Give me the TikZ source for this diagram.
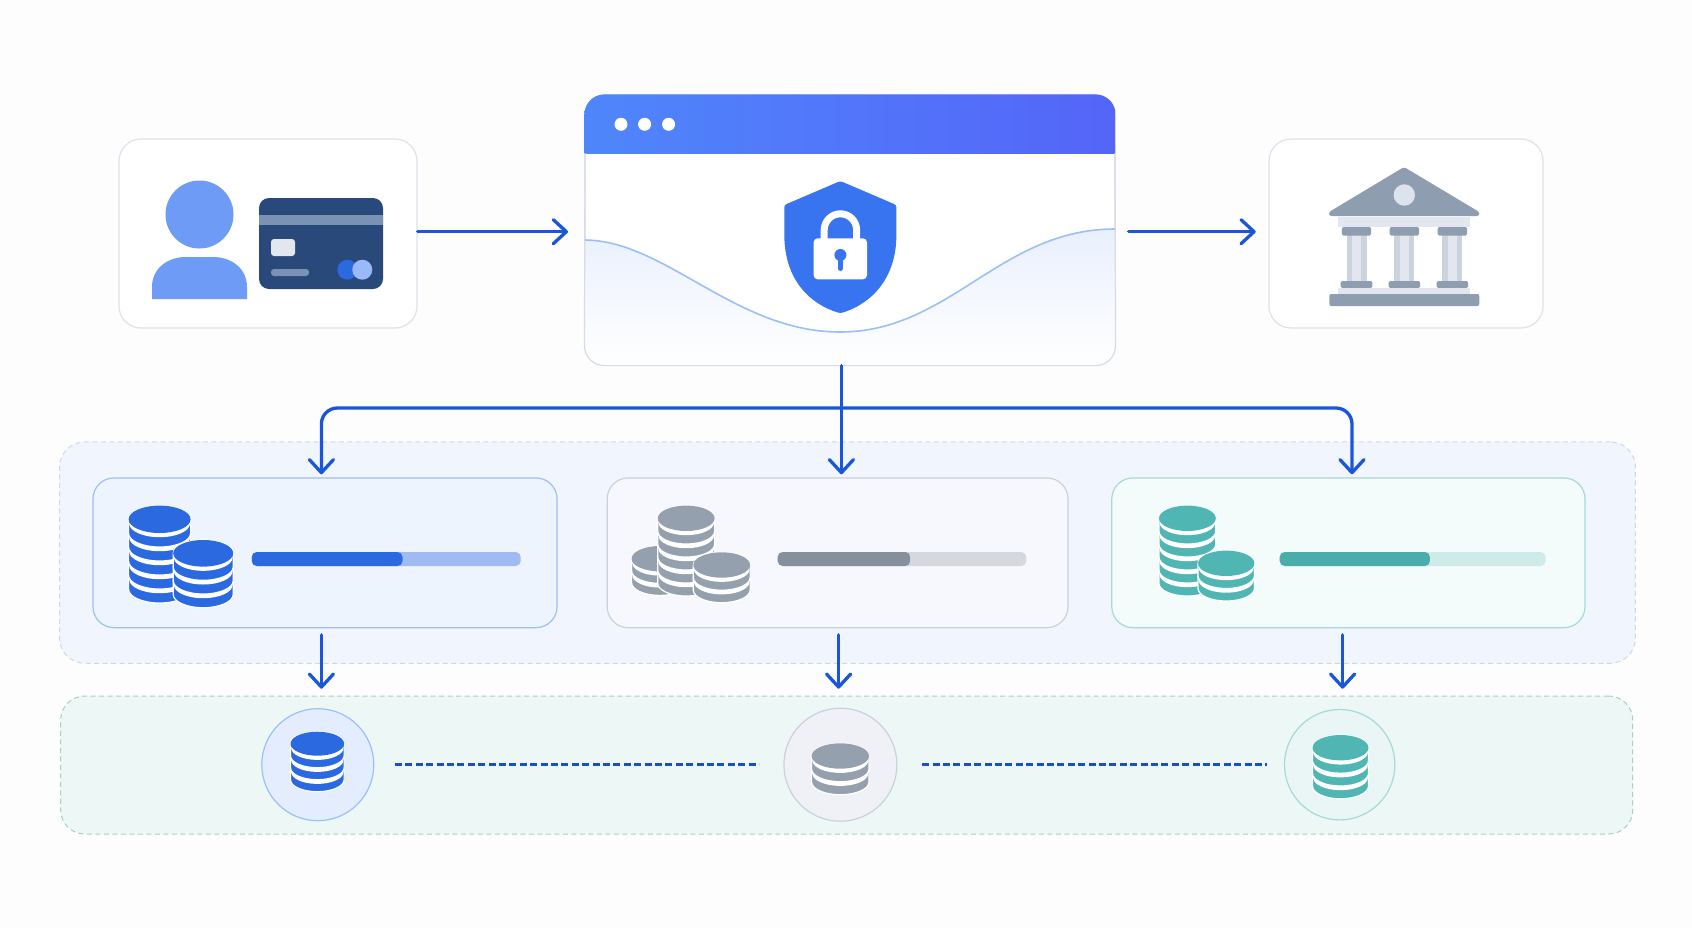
\documentclass[tikz,border=0pt]{standalone}
\usetikzlibrary{arrows.meta}

\definecolor{pagebg}{HTML}{FDFDFE}
\definecolor{cardline}{HTML}{DDE3EB}
\definecolor{gateline}{HTML}{D6DCE6}
\definecolor{flowblue}{HTML}{1A56DB}
\definecolor{dotblue}{HTML}{1A4FC0}
\definecolor{personblue}{HTML}{6E9BF5}
\definecolor{carddark}{HTML}{28497A}
\definecolor{cardstrip}{HTML}{7A93B5}
\definecolor{barleft}{HTML}{4F86FB}
\definecolor{barright}{HTML}{5465F8}
\definecolor{shieldblue}{HTML}{3873F0}
\definecolor{wavefill}{HTML}{E9F0FD}
\definecolor{waveline}{HTML}{9CBFF7}
\definecolor{bankdark}{HTML}{8F9DB0}
\definecolor{bankmid}{HTML}{CBD3DE}
\definecolor{banklight}{HTML}{E2E7EF}
\definecolor{coinblue}{HTML}{2A69E0}
\definecolor{coingray}{HTML}{95A0AE}
\definecolor{cointeal}{HTML}{4FB6B4}
\definecolor{rowfill}{HTML}{F1F5FE}
\definecolor{rowline}{HTML}{CFD9E6}
\definecolor{storefill}{HTML}{EDF7F6}
\definecolor{storeline}{HTML}{A8CEC8}
\definecolor{poolAfill}{HTML}{EEF4FE}
\definecolor{poolBfill}{HTML}{F6F8FD}
\definecolor{poolBline}{HTML}{C9D1DE}
\definecolor{poolCfill}{HTML}{F3FBFB}
\definecolor{poolCline}{HTML}{A5DAD9}
\definecolor{storeAfill}{HTML}{E3EDFD}
\definecolor{storeBfill}{HTML}{EFF1F7}
\definecolor{storeCfill}{HTML}{E9F6F5}

\tikzset{
  cardbox/.style={draw=cardline,line width=1.2pt,fill=white,rounded corners=22pt,inner sep=0pt},
  panelbox/.style={dashed,dash pattern=on 5pt off 3.5pt,line width=1pt,rounded corners=25pt,inner sep=0pt},
  rowbox/.style={line width=1.2pt,rounded corners=21pt,minimum height=149.7pt,inner sep=0pt},
  roundbase/.style={circle,line width=1.2pt,minimum size=112pt,inner sep=0pt},
  flowline/.style={line width=3.3pt,color=flowblue,line cap=round,>={Straight Barb[length=13pt,width=24pt,round]}},
  linkline/.style={line width=2.6pt,color=dotblue,dash pattern=on 7pt off 3.4pt},
}

% x, top y, rx, ry, pitch, coins, colour
\newcommand{\coinstack}[7]{
  \foreach \i in {#6,...,1} {
    \pgfmathsetmacro{\ytop}{#2+(\i-1)*#5}
    \pgfmathsetmacro{\ylow}{\ytop+#5}
    \pgfmathsetmacro{\ygap}{\ytop+4.2}
    \path[fill=#7,draw=white,line width=1.2pt] (#1-#3,\ytop) -- (#1-#3,\ylow)
      arc[start angle=180,end angle=0,x radius=#3,y radius=#4] -- (#1+#3,\ytop)
      arc[start angle=0,end angle=-180,x radius=#3,y radius=#4] -- cycle;
    \fill[white] (#1,\ygap) ellipse[x radius=#3-0.6,y radius=#4];
    \fill[#7] (#1,\ytop) ellipse[x radius=#3,y radius=#4];
  }
}
% left, split, right, dark, light
\newcommand{\meterbar}[5]{
  \fill[#5,rounded corners=5pt] (#1,551) rectangle (#3,565);
  \fill[#4,rounded corners=5pt] (#1,551) rectangle (#2,565);
}

\begin{document}
\begin{tikzpicture}[x=1pt,y=-1pt]
\useasboundingbox (0,0) rectangle (1692,929);
\fill[pagebg] (0,0) rectangle (1692,929);

% top row
\node[cardbox,minimum width=298pt,minimum height=189pt] (payer) at (268,233.5) {};
\node[cardbox,minimum width=274pt,minimum height=189pt] (bank) at (1406,233.5) {};
\node[cardbox,draw=gateline,rounded corners=20pt,minimum width=530pt,minimum height=270pt] (gate) at (850,230) {};

% payer
\fill[personblue] (199.5,214.5) circle (34);
\fill[personblue] (152,299) -- (152,287) .. controls (152,268) and (168,257) .. (186,257) -- (213,257)
  .. controls (231,257) and (247,268) .. (247,287) -- (247,299) -- cycle;
\fill[carddark,rounded corners=10pt] (259,198) rectangle (383,289);
\fill[cardstrip] (259,215) rectangle (383,225);
\fill[banklight,rounded corners=3pt] (271,239) rectangle (295,256);
\fill[cardstrip,rounded corners=3pt] (271,269) rectangle (309,276);
\fill[coinblue] (347.3,269.7) circle (10);
\fill[personblue!70!white] (362.3,269.7) circle (10);

% gate window
\begin{scope}
\clip[rounded corners=20pt] (gate.north west) rectangle (gate.south east);
\shade[top color=wavefill,bottom color=white] (584,240) .. controls (665,240) and (735,332) .. (840,332)
  .. controls (950,332) and (1000,229) .. (1115,229) -- (1115,365) -- (584,365) -- cycle;
\draw[waveline,line width=1.6pt] (584,240) .. controls (665,240) and (735,332) .. (840,332)
  .. controls (950,332) and (1000,229) .. (1115,229);
\shade[left color=barleft,right color=barright] (584,94) rectangle (1115,153);
\end{scope}
\draw[gateline,line width=1.2pt,rounded corners=20pt] (585,153) -- (gate.south west) -- (gate.south east) -- (1115,153);
\foreach \x in {621,644.6,668.6}
  \fill[white] (\x,124.3) circle (6.5);

% shield and lock
\fill[shieldblue,rounded corners=2.5pt] (840.4,181) -- (896.4,205) -- (896.4,232)
  .. controls (896.4,280) and (870,304) .. (840.4,313.3)
  .. controls (810,304) and (784.3,280) .. (784.3,232) -- (784.3,205) -- cycle;
\draw[white,line width=7pt] (824.2,242) -- (824.2,230) arc[start angle=-180,end angle=0,radius=16.2] -- (856.6,242);
\fill[white,rounded corners=4pt] (813.6,238.3) rectangle (867,279.3);
\fill[shieldblue] (840.4,255) circle (6);
\draw[shieldblue,line width=5pt,line cap=round] (840.4,255) -- (840.4,268.5);

% bank
\fill[bankdark,rounded corners=2.5pt] (1404,167) -- (1479.3,212) -- (1479.3,216) -- (1329,216) -- (1329,212) -- cycle;
\fill[banklight!80!bankmid] (1404.3,195) circle (10.7);
\fill[banklight] (1338,216.7) rectangle (1470,226.7);
\foreach \x in {1356.5,1404.3,1452.3} {
  \fill[bankmid] (\x-10,235) rectangle (\x+10,281);
  \fill[banklight] (\x-4.5,235) rectangle (\x+4.5,281);
  \fill[bankdark,rounded corners=1.5pt] (\x-14.7,227) rectangle (\x+14.7,235.5);
  \fill[bankdark,rounded corners=1.5pt] (\x-15.8,281) rectangle (\x+15.8,288);
}
\fill[banklight] (1338,288) rectangle (1470,294);
\fill[bankdark,rounded corners=2pt] (1329.3,294) rectangle (1479.3,306);

% middle row
\begin{scope}[yshift=-1pt]
\node[panelbox,draw=rowline,fill=rowfill,minimum width=1575.8pt,minimum height=221.3pt] (poolrow) at (847.5,551.6) {};
\node[rowbox,draw=waveline,fill=poolAfill,minimum width=464.1pt] (poolA) at (325,551.8) {};
\node[rowbox,draw=poolBline,fill=poolBfill,minimum width=460.8pt] (poolB) at (837.6,551.8) {};
\node[rowbox,draw=poolCline,fill=poolCfill,minimum width=473.2pt] (poolC) at (1348.4,551.8) {};

\coinstack{159.6}{518.3}{31}{13.7}{14}{5}{coinblue}
\coinstack{203.2}{552.3}{30}{13.3}{13.7}{3}{coinblue}
\meterbar{251.8}{402.5}{520.7}{coinblue}{coinblue!45!white}

\coinstack{660}{557.7}{28.4}{12.7}{12}{2}{coingray}
\coinstack{686.2}{517.3}{28.4}{12.7}{13}{5}{coingray}
\coinstack{721.7}{564}{28.4}{12.7}{12.5}{2}{coingray}
\meterbar{777.7}{910.2}{1026.3}{coingray!90!black}{coingray!40!white}

\coinstack{1187.4}{517.3}{28.4}{12.7}{13}{5}{cointeal}
\coinstack{1226.2}{562.3}{28.2}{12.7}{12.5}{2}{cointeal}
\meterbar{1279.7}{1429.9}{1545.5}{cointeal!95!black}{cointeal!28!white}

% bottom row
\node[panelbox,draw=storeline,fill=storefill,rounded corners=24pt,minimum width=1572pt,minimum height=138pt] (storerow) at (846.7,764) {};
\node[roundbase,draw=waveline,fill=storeAfill] (storeA) at (317.8,763.7) {};
\node[roundbase,draw=poolBline,fill=storeBfill,minimum size=113pt] (storeB) at (840.4,763.7) {};
\node[roundbase,draw=poolCline,fill=storeCfill,minimum size=110.4pt] (storeC) at (1339.7,763.7) {};

\coinstack{317.3}{742.7}{26.8}{12}{12}{3}{coinblue}
\coinstack{840.3}{755}{28.7}{12.7}{13}{2}{coingray}
\coinstack{1340.5}{746.7}{28}{12.7}{12.8}{3}{cointeal}

\draw[linkline,shorten <=20.6pt,shorten >=24.3pt] (storeA.east) -- (storeB.west);
\draw[linkline,shorten <=24.6pt,shorten >=16.9pt] (storeB.east) -- (storeC.west);
\end{scope}

% connectors
\coordinate (gatein) at (568,231.7);
\coordinate (bankin) at (1255.7,231.7);
\coordinate (bus) at (841.4,408);
\coordinate (inA) at (321.4,474.3);
\coordinate (inB) at (841.4,474.3);
\coordinate (inC) at (1352,474.3);
\coordinate (tipA) at (321.4,688.7);
\coordinate (tipB) at (838.6,688.7);
\coordinate (tipC) at (1342.6,688.7);

\draw[flowline,->] (payer.east |- gatein) -- (gatein);
\draw[flowline,->,shorten <=13pt] (gate.east |- bankin) -- (bankin);
\draw[flowline,<->,rounded corners=16pt] (inA) -- (inA |- bus) -- (inC |- bus) -- (inC);
\draw[flowline,->] (gate.south -| bus) -- (inB);
\draw[flowline,->,shorten <=6.6pt] (poolA.south -| tipA) -- (tipA);
\draw[flowline,->,shorten <=6.6pt] (poolB.south -| tipB) -- (tipB);
\draw[flowline,->,shorten <=6.6pt] (poolC.south -| tipC) -- (tipC);
\end{tikzpicture}
\end{document}
